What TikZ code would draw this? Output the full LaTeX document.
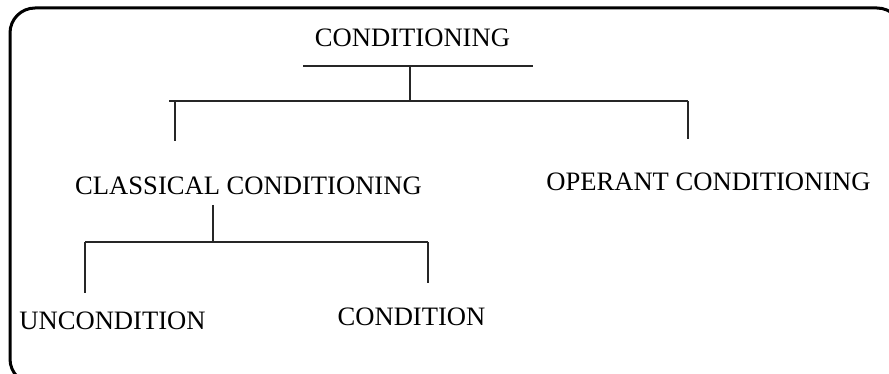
\documentclass[tikz,border=0pt]{standalone}
\usepackage{fontspec}
\setmainfont{Liberation Serif}
\usepackage{tikz}
\usetikzlibrary{positioning}

\begin{document}
\begin{tikzpicture}[
  x=1pt,y=-1pt,
  lbl/.style={font=\fontsize{26.6}{30}\selectfont,inner sep=0pt,anchor=base},
  tree/.style={line width=1.4pt,draw=black!85},
  frame/.style={line width=3pt,rounded corners=25pt}
]
  \useasboundingbox (0,0) rectangle (889,374);
  \draw[frame] (10,8) rectangle (902,384);

  % Labels
  \node[lbl] (cond)  at (412.5,47)  {CONDITIONING};
  \node[lbl] (class) at (248.5,195) {CLASSICAL CONDITIONING};
  \node[lbl] (oper)  at (708.5,191) {OPERANT CONDITIONING};
  \node[lbl] (uncs)  at (112.5,329) {UNCONDITION};
  \node[lbl] (cs)    at (411.5,325) {CONDITION};

  % Level 1 -- root bar and branches
  \coordinate (barL) at (303,66);
  \coordinate (barR) at (533,66);
  \coordinate (rootJ) at (410,66);
  \coordinate (mainL) at (169,101);
  \coordinate (mainR) at (688,101);
  \coordinate (classTop) at (175,141);
  \coordinate (operTop) at (688,139);

  \draw[tree] (barL) -- (barR);
  \draw[tree] (rootJ) -- (rootJ |- mainL);
  \draw[tree] (mainL) -- (mainR);
  \draw[tree] (classTop |- mainL) -- (classTop);
  \draw[tree] (mainR) -- (operTop);

  % Level 2 -- classical conditioning
  \coordinate (classJ) at (213,205);
  \coordinate (subL) at (85,242);
  \coordinate (subR) at (428,242);
  \coordinate (uncsTop) at (85,293);
  \coordinate (csTop) at (428,283);

  \draw[tree] (classJ) -- (classJ |- subL);
  \draw[tree] (subL) -- (subR);
  \draw[tree] (subL) -- (uncsTop);
  \draw[tree] (subR) -- (csTop);
\end{tikzpicture}
\end{document}
